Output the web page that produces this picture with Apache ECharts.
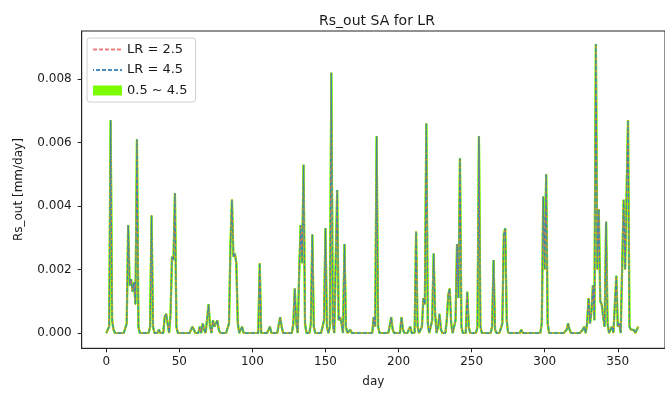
<!DOCTYPE html>
<html>
<head>
<meta charset="utf-8">
<script src="https://cdn.jsdelivr.net/npm/echarts@6/dist/echarts.min.js"></script>
<style>
  html, body { margin: 0; padding: 0; background: #fff; }
  #chart { width: 665px; height: 394px; }
</style>
</head>
<body>
<div id="chart"></div>
<script>
// Daily surface runoff (Rs_out) over one year, sensitivity to LR.
// Runoff is zero on most days; only the days with flow are listed.
const nDays = 365;
const wetDays = [
  2, 3, 4, 5, 14, 15, 16, 17, 18, 19, 20, 21, 22, 30, 31, 32, 36, 40, 41, 42,
  44, 45, 46, 47, 48, 58, 59, 60, 64, 66, 67, 70, 71, 73, 74, 75, 76, 77,
  84, 85, 86, 87, 88, 89, 90, 93, 105, 112, 119, 120, 128, 129, 130,
  132, 133, 134, 135, 136, 140, 141, 142, 149, 150, 151, 153, 154, 155,
  158, 159, 160, 161, 163, 164, 167, 183, 184, 185, 186, 195, 196, 202, 203,
  208, 212, 213, 216, 217, 218, 219, 220, 223, 224, 225, 227, 228, 229,
  233, 234, 235, 236, 239, 240, 241, 242, 243, 247, 248, 254, 255, 256,
  264, 265, 266, 271, 272, 273, 274, 284, 298, 299, 300, 301, 302,
  315, 316, 317, 326, 327, 329, 330, 331, 332, 333, 334, 335, 336, 337, 338,
  339, 340, 341, 342, 343, 345, 346, 349, 350, 351, 353, 354, 355, 356, 357,
  358, 359, 360, 361, 363, 364
];
const rsOutWet = [
  0.0002, 0.0067, 0.0004, 0.0001, 0.0003, 0.0034, 0.0015, 0.0017, 0.0013, 0.0016, 0.0009, 0.0061, 0.0002, 0.0002, 0.0037, 0.0002, 0.0001, 0.0005, 0.0006, 0.0003,
  0.0006, 0.0024, 0.0023, 0.0044, 0.0002, 0.0001, 0.0002, 0.0001, 0.0002, 0.0003, 0.0001, 0.0009, 0.0002, 0.0004, 0.0002, 0.0003, 0.0004, 0.0001,
  0.0003, 0.0028, 0.0042, 0.0024, 0.0025, 0.0022, 0.0003, 0.0002, 0.0022, 0.0002, 0.0005, 0.0002, 0.0003, 0.0014, 0.0003,
  0.0019, 0.0034, 0.0022, 0.0053, 0.0003, 0.0003, 0.0031, 0.0002, 0.0004, 0.0033, 0.0002, 0.0002, 0.0082, 0.0003,
  0.0045, 0.0004, 0.0005, 0.0003, 0.0028, 0.0002, 0.0001, 0.0005, 0.0002, 0.0062, 0.0002, 0.0005, 0.0001, 0.0005, 0.0001,
  0.0002, 0.0032, 0.0002, 0.0002, 0.0011, 0.0009, 0.0066, 0.0003, 0.0004, 0.0025, 0.0006, 0.0002, 0.0006, 0.0001,
  0.0004, 0.0012, 0.0014, 0.0003, 0.0004, 0.0028, 0.0011, 0.0055, 0.0002, 0.0013, 0.0002, 0.0002, 0.0062, 0.0002,
  0.0002, 0.0023, 0.0001, 0.0003, 0.0031, 0.0033, 0.0004, 0.0001, 0.0003, 0.0043, 0.0020, 0.0050, 0.0003,
  0.0001, 0.0003, 0.0001, 0.0001, 0.0002, 0.0003, 0.0011, 0.0003, 0.0007, 0.0015, 0.0004, 0.0091, 0.0020, 0.0039, 0.0010,
  0.0009, 0.0005, 0.0002, 0.0035, 0.0003, 0.0001, 0.0002, 0.0018, 0.0002, 0.0003, 0.0021, 0.0042, 0.0020, 0.0020, 0.0067,
  0.0002, 0.0001, 0.0001, 0.0001, 0.0001, 0.0002
];
const xTicks = [0, 50, 100, 150, 200, 250, 300, 350];
const yTicks = [0, 0.002, 0.004, 0.006, 0.008];

// The LR = 2.5 and LR = 4.5 runs coincide at this scale, so the
// 0.5 ~ 4.5 band collapses onto them and only its green edges show.
function dailySeries() {
  const out = new Array(nDays).fill(0);
  wetDays.forEach((d, i) => { out[d] = rsOutWet[i]; });
  return out.map((v, d) => [d, v]);
}
const lr25 = dailySeries();
const lr45 = dailySeries();
const bandLow = dailySeries();
const bandHigh = dailySeries();

const FONT = 'DejaVu Sans';
const INK = '#1a1a1a';
const GREEN = '#7CFC00';

const chart = echarts.init(document.getElementById('chart'), null, { renderer: 'canvas' });
chart.setOption({
  animation: false,
  backgroundColor: '#fff',
  textStyle: { fontFamily: FONT },
  title: {
    text: 'Rs_out SA for LR',
    left: 372, top: 9, textAlign: 'center',
    textStyle: { fontFamily: FONT, fontSize: 14, fontWeight: 'normal', color: INK }
  },
  grid: {
    left: 81.7, top: 31, bottom: 45.7, right: -10,
    show: true, borderColor: '#222', borderWidth: 1
  },
  legend: {
    left: 87, top: 38, orient: 'vertical',
    itemWidth: 29, itemHeight: 10, itemGap: 7.5, itemTextGap: 12,
    padding: [5, 8, 5, 5],
    backgroundColor: 'rgba(255,255,255,0.85)',
    borderColor: '#d0d0d0', borderWidth: 1, borderRadius: 3,
    textStyle: { fontFamily: FONT, fontSize: 13, color: INK },
    data: [
      { name: 'LR = 2.5', itemStyle: { opacity: 0 } },
      { name: 'LR = 4.5', itemStyle: { opacity: 0 } },
      { name: '0.5 ~ 4.5', icon: 'rect', itemStyle: { color: GREEN } }
    ]
  },
  xAxis: {
    type: 'value', min: -16.8, max: 382.3,
    name: 'day', nameLocation: 'middle', nameGap: 28,
    nameTextStyle: { fontFamily: FONT, fontSize: 12, color: INK },
    splitLine: { show: false },
    axisLine: { show: true, onZero: false, lineStyle: { color: '#222', width: 1 } },
    axisTick: { show: true, length: 4, customValues: xTicks, lineStyle: { color: '#222' } },
    axisLabel: { customValues: xTicks, margin: 8, fontSize: 12, color: INK, fontFamily: FONT }
  },
  yAxis: {
    type: 'value', min: -0.000482, max: 0.009512,
    name: 'Rs_out [mm/day]', nameLocation: 'middle', nameGap: 57, nameRotate: 90,
    nameTextStyle: { fontFamily: FONT, fontSize: 12, color: INK },
    splitLine: { show: false },
    axisLine: { show: true, onZero: false, lineStyle: { color: '#222', width: 1 } },
    axisTick: { show: true, length: 4, customValues: yTicks, lineStyle: { color: '#222' } },
    axisLabel: {
      customValues: yTicks, margin: 10, fontSize: 12, color: INK, fontFamily: FONT,
      formatter: v => v.toFixed(3)
    }
  },
  series: [
    {
      name: 'band low', type: 'line', data: bandLow,
      showSymbol: false, symbol: 'none', silent: true, z: 1,
      lineStyle: { color: GREEN, width: 2.2 }
    },
    {
      name: '0.5 ~ 4.5', type: 'line', data: bandHigh,
      showSymbol: false, symbol: 'none', silent: true, z: 1,
      color: GREEN,
      lineStyle: { color: GREEN, width: 2.2 }
    },
    {
      name: 'LR = 2.5', type: 'line', data: lr25,
      showSymbol: false, symbol: 'none', z: 3,
      color: '#ef5a5a',
      lineStyle: { color: '#ef5a5a', width: 1.2, type: [4, 2], opacity: 0.8 }
    },
    {
      name: 'LR = 4.5', type: 'line', data: lr45,
      showSymbol: false, symbol: 'none', z: 4,
      color: '#3a7fb8',
      lineStyle: { color: '#3a7fb8', width: 1.3, type: [4, 2], dashOffset: 3, opacity: 0.9 }
    }
  ]
});
</script>
</body>
</html>
